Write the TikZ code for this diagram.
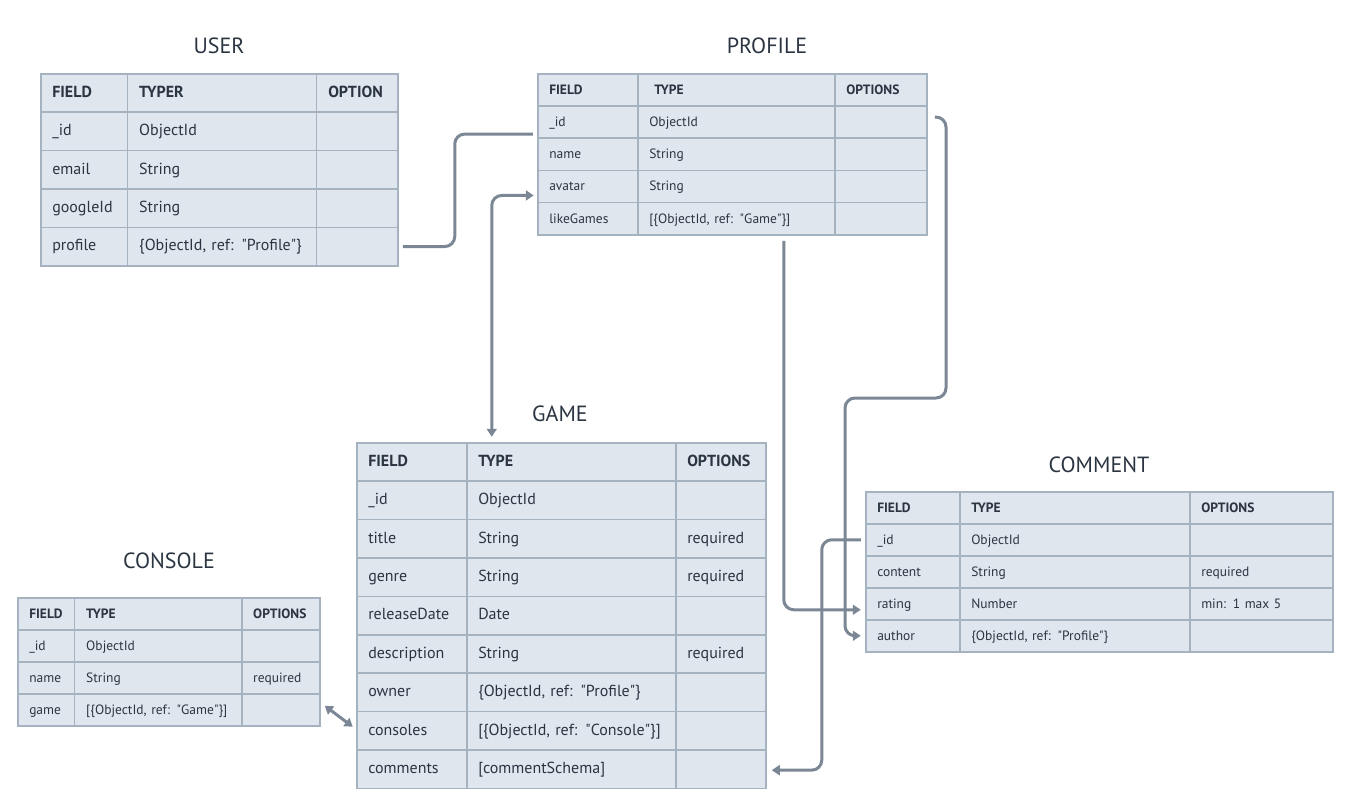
\documentclass[tikz,border=0pt]{standalone}
\usepackage{fontspec}
\setmainfont{PT Sans}
\usetikzlibrary{positioning,matrix,calc,arrows.meta}

\definecolor{cellfill}{HTML}{DFE6EE}
\definecolor{cellline}{HTML}{A5B2C0}
\definecolor{ink}{HTML}{2B3542}
\definecolor{linkgray}{HTML}{7B8794}

\newcommand{\dq}{\textquotedbl}

\tikzset{
	cell/.style={draw=cellline, fill=cellfill, line width=1.5pt, text=ink, inner xsep=11.5pt, inner ysep=0pt, outer sep=0pt, align=left, anchor=center, text height=0.9em, text depth=0.02em},
	schema/.style n args={2}{matrix of nodes, nodes in empty cells, inner sep=0pt, outer sep=0pt, anchor=north west, row sep=-1.5pt, column sep=-1.5pt,
		nodes={cell, font=\fontsize{#1}{#1}\selectfont, minimum height=#2},
		row 1/.style={nodes={font=\fontsize{#1}{#1}\selectfont\bfseries}}},
	title/.style={font=\fontsize{22}{26}\selectfont, text=ink, inner sep=0pt},
	link/.style={draw=linkgray, line width=3pt, rounded corners=10pt, >={Triangle[length=8pt,width=10pt]}}
}

\begin{document}
\begin{tikzpicture}[x=1pt, y=1pt]
	\useasboundingbox (0,0) rectangle (1360,-796);
	% tables
	\matrix[schema={16}{38.4pt},
		column 1/.style={nodes={text width=64pt}},
		column 2/.style={nodes={text width=166pt}},
		column 3/.style={nodes={text width=58pt}}] (user) at (40,-73) {
		FIELD & TYPER & OPTION \\
		\_id & ObjectId & \\
		email & String & \\
		googleId & String & \\
		profile & \{ObjectId, ref: \dq Profile\dq\} & \\
	};
	\matrix[schema={13.5}{32.2pt},
		column 1/.style={nodes={text width=77pt}},
		column 2/.style={nodes={text width=174pt}},
		column 3/.style={nodes={text width=69pt}}] (profile) at (537,-73) {
		FIELD & \hspace*{5pt}TYPE & OPTIONS \\
		\_id & ObjectId & \\
		name & String & \\
		avatar & String & \\
		likeGames & {[\{ObjectId, ref: \dq Game\dq\}]} & \\
	};
	\matrix[schema={16}{38.4pt},
		column 1/.style={nodes={text width=87pt}},
		column 2/.style={nodes={text width=186pt}},
		column 3/.style={nodes={text width=67pt}}] (game) at (356,-442) {
		FIELD & TYPE & OPTIONS \\
		\_id & ObjectId & \\
		title & String & required \\
		genre & String & required \\
		releaseDate & Date & \\
		description & String & required \\
		owner & \{ObjectId, ref: \dq Profile\dq\} & \\
		consoles & {[\{ObjectId, ref: \dq Console\dq\}]} & \\
		comments & {[commentSchema]} & \\
	};
	\matrix[schema={13.5}{32pt},
		column 1/.style={nodes={text width=71pt}},
		column 2/.style={nodes={text width=207pt}},
		column 3/.style={nodes={text width=120pt}}] (comment) at (865,-491) {
		FIELD & TYPE & OPTIONS \\
		\_id & ObjectId & \\
		content & String & required \\
		rating & Number & min: 1 max 5 \\
		author & \{ObjectId, ref: \dq Profile\dq\} & \\
	};
	\matrix[schema={13.5}{32pt},
		column 1/.style={nodes={text width=34pt}},
		column 2/.style={nodes={text width=144pt}},
		column 3/.style={nodes={text width=55pt}}] (console) at (17,-597) {
		FIELD & TYPE & OPTIONS \\
		\_id & ObjectId & \\
		name & String & required \\
		game & {[\{ObjectId, ref: \dq Game\dq\}]} & \\
	};
	% titles
	\node[title] (usertitle) at (219,-46) {USER};
	\node[title] (profiletitle) at (767,-46) {PROFILE};
	\node[title] (gametitle) at (560,-414) {GAME};
	\node[title] (commenttitle) at (1099,-465) {COMMENT};
	\node[title] (consoletitle) at (169,-561) {CONSOLE};
	% links
	\draw[link] ($(user-5-3.east)+(5,0)$) -- ++(52,0) |- ($(profile-2-1.west)+(-5,-12)$);
	\draw[link, <->] ($(profile-4-1.west)+(-4,-9)$) -| ($(game-1-2.north west)+(25,6)$);
	\draw[link, <->] ($(console-4-3.east)+(5,4)$) -- ($(game-8-1.west)+(-4,4)$);
	\draw[link, ->] ($(profile-5-2.south east)+(-51,-6)$) |- ($(comment-4-1.west)+(-5,-6)$);
	\draw[link, ->] ($(profile-2-3.east)+(8,5)$) -| (946,-398) -- (845,-398) |- ($(comment-5-1.west)+(-5,0)$);
	\draw[link, ->] ($(comment-2-1.west)+(-5,0)$) -| ($(game-9-3.east)+(56,-1)$) -- ($(game-9-3.east)+(6,-1)$);
\end{tikzpicture}
\end{document}
